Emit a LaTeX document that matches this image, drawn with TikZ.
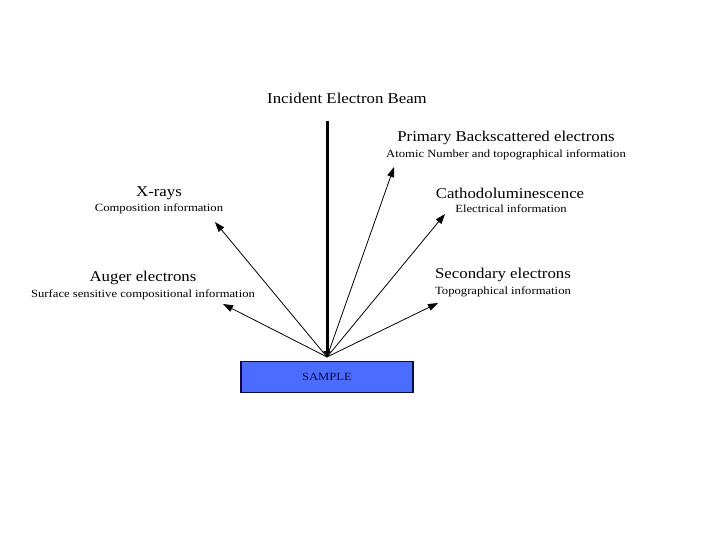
\documentclass[tikz,border=0pt]{standalone}
\usepackage{fontspec}
\setmainfont{Liberation Serif}
\usetikzlibrary{arrows.meta}
\definecolor{sampleblue}{RGB}{74,108,255}
\definecolor{navy}{RGB}{10,10,70}
\newcommand{\bigtxt}[1]{\scalebox{1.12}[1]{\fontsize{15}{17}\selectfont #1}}
\newcommand{\smalltxt}[1]{\scalebox{1.15}[1]{\fontsize{11}{13}\selectfont #1}}
\begin{document}
\begin{tikzpicture}[x=1pt,y=-1pt,
  ray/.style={line width=0.8pt,-{Triangle[length=10pt,width=7pt]}},
  beam/.style={line width=3pt,-{Triangle[length=6pt,width=7pt]}},
  lbl/.style={inner sep=0pt,anchor=center}]
\useasboundingbox (0,0) rectangle (720,540);
\fill[white] (0,0) rectangle (720,540);
% sample
\node[draw=navy,line width=1.5pt,fill=sampleblue,minimum width=172pt,minimum height=31pt,inner sep=0pt,text=navy] (sample) at (327,377) {\smalltxt{SAMPLE}};
% impact point
\coordinate (imp) at (327,357);
\coordinate (beamtop) at (327,121);
\coordinate (tpbe) at (394,167);
\coordinate (tcl) at (445,214);
\coordinate (tse) at (438,303);
\coordinate (txr) at (215,222);
\coordinate (tau) at (223,304);
% beam
\draw[beam] (beamtop) -- (imp);
% rays
\draw[ray] (imp) -- (tpbe);
\draw[ray] (imp) -- (tcl);
\draw[ray] (imp) -- (tse);
\draw[ray] (imp) -- (txr);
\draw[ray] (imp) -- (tau);
% labels
\node[lbl] (ieb) at (347,98) {\bigtxt{Incident Electron Beam}};
\node[lbl] (pbe) at (506,138) {\bigtxt{Primary Backscattered electrons}};
\node[lbl] (pbei) at (506,155) {\smalltxt{Atomic Number and topographical information}};
\node[lbl] (cl) at (510,193) {\bigtxt{Cathodoluminescence}};
\node[lbl] (cli) at (511,209) {\smalltxt{Electrical information}};
\node[lbl] (se) at (503,275) {\bigtxt{Secondary electrons}};
\node[lbl] (sei) at (503,292) {\smalltxt{Topographical information}};
\node[lbl] (xr) at (159,193) {\bigtxt{X-rays}};
\node[lbl] (xri) at (159,209) {\smalltxt{Composition information}};
\node[lbl] (au) at (143,278) {\bigtxt{Auger electrons}};
\node[lbl] (aui) at (143,295) {\smalltxt{Surface sensitive compositional information}};
\end{tikzpicture}
\end{document}
